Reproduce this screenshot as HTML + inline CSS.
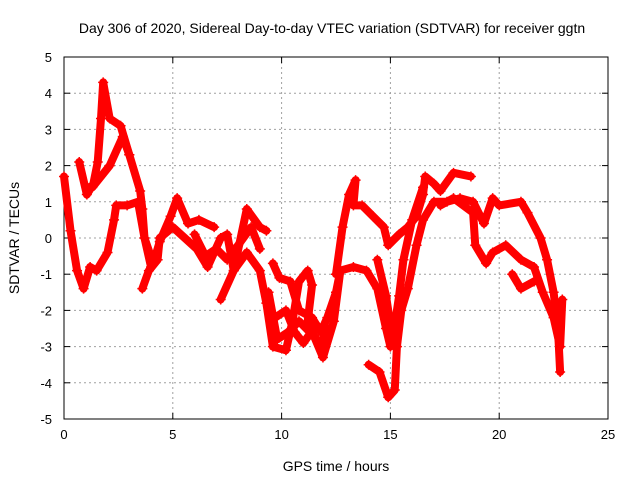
<!DOCTYPE html>
<html><head><meta charset="utf-8"><style>
body{margin:0;background:#fff}
svg{display:block;font-family:"Liberation Sans",sans-serif}
</style></head><body>
<svg id="c" width="640" height="480"></svg>
<script>
const xTicks=[0,5,10,15,20,25];
const yTicks=[-5,-4,-3,-2,-1,0,1,2,3,4,5];
const trackA=[[0,1.7],[0.3,0.2],[0.6,-0.9],[0.9,-1.4],[1.2,-0.8],[1.5,-0.9],[2.0,-0.4],[2.3,0.5],[2.4,0.9],[2.9,0.9],[3.4,1.0],[3.7,0],[4.1,-0.7],[4.4,-0.1],[4.9,0.6],[5.2,1.1],[5.7,0.4],[6.2,0.5],[6.9,0.3]];
const trackB=[[0.7,2.1],[1.05,1.2],[1.35,1.5],[1.55,2.1],[1.7,3.3],[1.8,4.3],[2.1,3.3],[2.6,3.1],[3.0,2.3],[3.5,1.3],[3.6,0.8],[3.7,0],[4.0,-0.8],[4.3,-0.6]];
const trackC=[[1.3,1.4],[2.1,2.0],[2.7,2.8],[3.0,2.3]];
const trackD=[[3.6,-1.4],[3.9,-0.9],[4.3,-0.6],[4.4,0],[5.0,0.3],[6.1,-0.3],[6.6,-0.8],[7.2,0],[7.5,0.1],[7.8,-0.9],[8.4,0.8],[9.0,0.3],[9.3,0.2]];
const trackE=[[7.2,-1.7],[7.8,-0.9],[8.4,-0.4],[9.0,-0.9],[9.3,-1.8],[9.6,-3.0],[10.2,-3.1],[10.5,-2.3],[10.8,-1.2],[11.2,-0.9],[11.4,-1.3],[11.2,-2.3],[11.9,-3.3],[12.4,-2.3],[12.7,-0.9]];
const trackF=[[9.6,-0.7],[9.9,-1.1],[10.4,-1.2],[10.8,-2.0],[11.4,-2.2],[11.8,-2.6],[12.1,-2.2],[12.5,-1.5],[12.7,-0.9],[13.3,-0.8],[13.9,-0.9],[14.4,-1.4],[14.8,-2.5],[15.0,-3.0]];
const trackG=[[12.5,-1.0],[12.8,0.3],[13.1,1.2],[13.4,1.6],[13.3,0.9],[13.7,0.9],[14.2,0.6],[14.7,0.3],[14.9,-0.2],[15.4,0.1],[15.8,0.3],[16.2,0.6],[16.5,1.2],[16.6,1.7],[17.0,1.5],[17.3,1.3],[17.9,1.8],[18.7,1.7]];
const trackH=[[14.0,-3.5],[14.5,-3.7],[14.9,-4.4],[15.2,-4.2],[15.3,-3.0],[15.5,-2.0],[15.8,-1.4],[16.2,-0.2],[16.5,0.5],[17.0,1.0],[17.6,1.0],[18.2,1.1],[18.8,1.0],[19.3,0.4],[19.7,1.1],[20.0,0.9],[21.0,1.0],[21.3,0.7],[21.9,0.0],[22.2,-0.6],[22.5,-1.5],[22.7,-2.5],[22.8,-3.7]];
const trackI=[[17.3,0.9],[17.9,1.1],[18.8,0.7],[18.9,-0.2],[19.4,-0.7],[19.7,-0.4],[20.3,-0.2],[21.0,-0.6],[21.6,-0.8],[22.0,-1.5],[22.5,-2.2],[22.8,-3.0],[22.9,-1.7]];
const trackJ=[[20.6,-1.0],[21.0,-1.4],[21.6,-1.2]];
const trackK=[[14.4,-0.6],[14.8,-1.6],[15.1,-2.8],[15.4,-1.6],[15.6,-0.6],[16.0,0.5],[16.5,1.4]];
const trackL=[[9.4,-1.5],[9.8,-2.8],[10.3,-2.6],[10.8,-2.3],[11.3,-2.6],[11.8,-2.9],[12.2,-2.5]];
const trackM=[[9.7,-2.2],[10.2,-2.0],[10.6,-2.6],[11.0,-2.9],[11.6,-2.4],[12.0,-2.7]];
const trackN=[[6.0,0.1],[6.5,-0.5],[7.0,-0.3],[7.5,-0.6],[8.0,-0.2],[8.6,0.3],[9.0,-0.3]];
const tracks=[trackA,trackB,trackC,trackD,trackE,trackF,trackG,trackH,trackI,trackJ,trackK,trackL,trackM,trackN];
const L=64,R=608,T=57,B=419;
const sx=v=>L+(v-0)/25*(R-L);
const sy=v=>B-(v+5)/10*(B-T);
const NS="http://www.w3.org/2000/svg";
const svg=document.getElementById('c');
function mk(t,a,p){const e=document.createElementNS(NS,t);for(const k in a)e.setAttribute(k,a[k]);(p||svg).appendChild(e);return e;}
const grid=mk('g',{});


xTicks.forEach(v=>{if(v>0&&v<25)mk('line',{x1:sx(v),x2:sx(v),y1:T,y2:B,stroke:'#a0a0a0','stroke-dasharray':'2,3'},grid);});
yTicks.forEach(v=>{if(v>-5&&v<5)mk('line',{x1:L,x2:R,y1:sy(v),y2:sy(v),stroke:'#a0a0a0','stroke-dasharray':'2,3'},grid);});
const frame=mk('rect',{x:L,y:T,width:R-L,height:B-T,fill:'none',stroke:'#000'});


xTicks.forEach(v=>{
 mk('line',{x1:sx(v),x2:sx(v),y1:B,y2:B-6,stroke:'#000'});mk('line',{x1:sx(v),x2:sx(v),y1:T,y2:T+6,stroke:'#000'});
 const t=mk('text',{x:sx(v),y:B+20,'text-anchor':'middle','font-size':13});t.textContent=v;
 
 
});
yTicks.forEach(v=>{
 mk('line',{x1:L,x2:L+6,y1:sy(v),y2:sy(v),stroke:'#000'});mk('line',{x1:R,x2:R-6,y1:sy(v),y2:sy(v),stroke:'#000'});
 const t=mk('text',{x:L-12,y:sy(v)+5,'text-anchor':'end','font-size':13});t.textContent=v;
 
 
});
const data=mk('g',{});


tracks.forEach(tr=>{
 const p=mk('polyline',{points:tr.map(d=>sx(d[0])+','+sy(d[1])).join(' '),fill:'none',stroke:'#f00','stroke-width':8,'stroke-linejoin':'round','stroke-linecap':'round'},data);
 
 
 tr.forEach(d=>{const x=sx(d[0]),y=sy(d[1]);
  const m=mk('path',{d:`M${x-5},${y}H${x+5}M${x},${y-5}V${y+5}`,stroke:'#f00','stroke-width':1.5},data);
  
  
 });
});
const title=mk('text',{x:332,y:33,'text-anchor':'middle','font-size':14});
title.textContent='Day 306 of 2020, Sidereal Day-to-day VTEC variation (SDTVAR) for receiver ggtn';


const xl=mk('text',{x:336,y:471,'text-anchor':'middle','font-size':14});
xl.textContent='GPS time / hours';


const yl=mk('text',{x:0,y:0,'text-anchor':'middle','font-size':14,transform:'translate(19,238) rotate(-90)'});
yl.textContent='SDTVAR / TECUs';


</script>
</body></html>
